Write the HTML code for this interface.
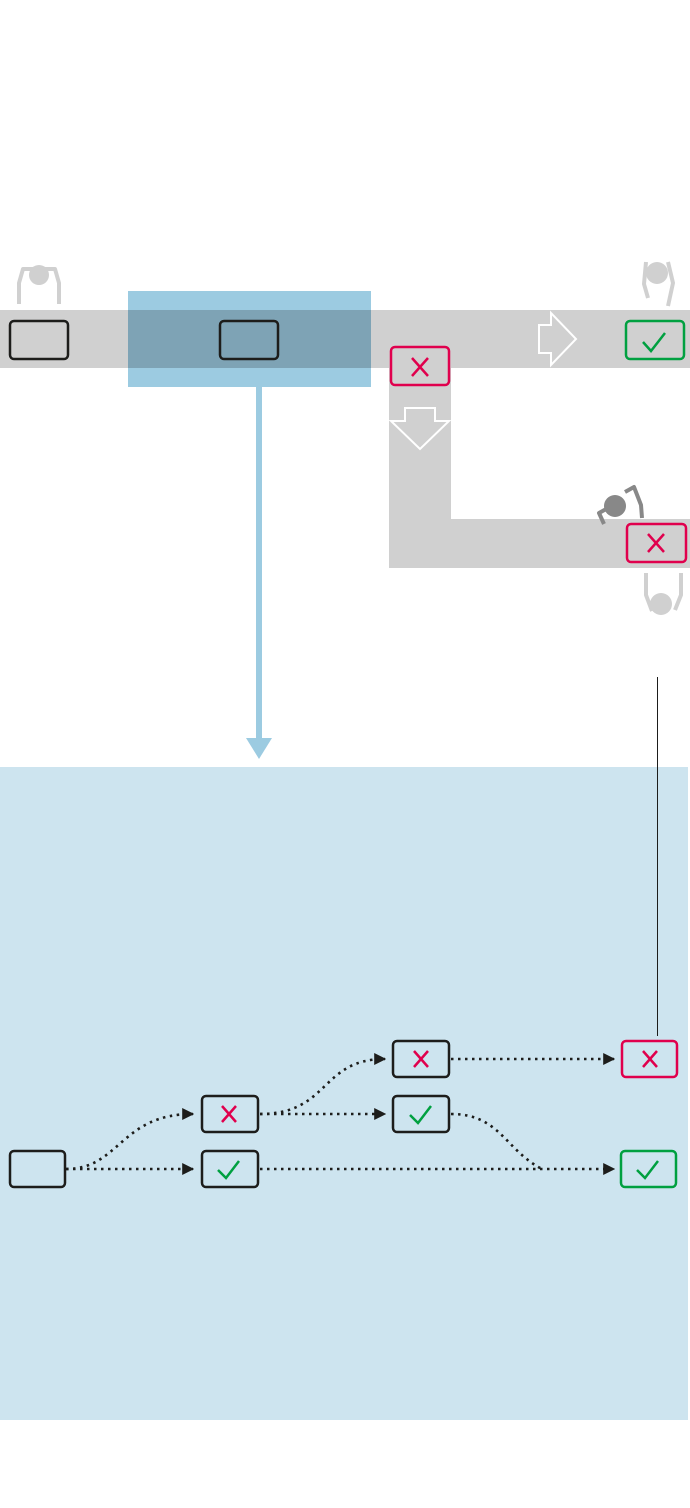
<!DOCTYPE html>
<html><head><meta charset="utf-8"><style>html,body{margin:0;padding:0;background:#fff}svg{display:block}</style></head>
<body>
<svg width="690" height="1508" viewBox="0 0 690 1508" xmlns="http://www.w3.org/2000/svg">
<defs>
<marker id="ah" viewBox="0 0 10 10" refX="9" refY="5" markerWidth="12" markerHeight="12" markerUnits="userSpaceOnUse" orient="auto"><path d="M0 0 L10 5 L0 10Z" fill="#1d1d1b"/></marker>
</defs>
<rect x="0" y="310" width="690" height="58" fill="#d0d0d0"/>
<rect x="389" y="368" width="62" height="200" fill="#d0d0d0"/>
<rect x="389" y="519" width="301" height="49" fill="#d0d0d0"/>
<rect x="128" y="291" width="243" height="96" fill="#9ccbe1"/>
<rect x="128" y="310" width="243" height="58" fill="#7ea3b5"/>
<rect x="256" y="387" width="6" height="352" fill="#9ccbe1"/>
<path d="M246 738 L272 738 L259 759Z" fill="#9ccbe1"/>
<rect x="10" y="321" width="58" height="38" rx="4" fill="none" stroke="#1d1d1b" stroke-width="2.5"/>
<rect x="220" y="321" width="58" height="38" rx="4" fill="none" stroke="#1d1d1b" stroke-width="2.5"/>
<rect x="626" y="321" width="58" height="38" rx="4" fill="none" stroke="#00a040" stroke-width="2.5"/>
<path d="M643 342 L651 351 L665 333" fill="none" stroke="#00a040" stroke-width="2.5"/>
<rect x="391" y="347" width="58" height="38" rx="4" fill="#d0d0d0" stroke="#e0004d" stroke-width="2.5"/>
<path d="M412 358 L428 376 M428 358 L412 376" stroke="#e0004d" stroke-width="2.5"/>
<path d="M539 325 H551 V313 L576 339 L551 365 V353 H539Z" fill="none" stroke="#fff" stroke-width="2"/>
<path d="M405 408 H435 V421 H449 L420 449 L391 421 H405Z" fill="none" stroke="#fff" stroke-width="2"/>
<rect x="627" y="524" width="59" height="38" rx="4" fill="#d0d0d0" stroke="#e0004d" stroke-width="2.5"/>
<path d="M648 534 L664 552 M664 534 L648 552" stroke="#e0004d" stroke-width="2.5"/>
<g fill="#d0d0d0" stroke="#d0d0d0" stroke-width="4" stroke-linejoin="round">
<circle cx="39" cy="275" r="10" stroke="none"/>
<path d="M19 304 V283 L23 269 H55 L59 283 V304" fill="none"/>
<circle cx="657" cy="273" r="11" stroke="none"/>
<path d="M646 262 L644 284 L648 298 M668 262 L673 283 L668 306" fill="none"/>
<circle cx="661" cy="604" r="11" stroke="none"/>
<path d="M646 573 V595 L652 611 M681 573 V595 L675 610" fill="none"/>
</g>
<g fill="#888" stroke="#888" stroke-width="4" stroke-linejoin="round">
<circle cx="615" cy="506" r="11" stroke="none"/>
<path d="M604 524 L599 513 L608 508 M625 492 L634 487 L641 505 L642 518" fill="none"/>
</g>
<rect x="0" y="767" width="688" height="653" fill="#cde4ef"/>
<line x1="657.5" y1="677" x2="657.5" y2="1036" stroke="#1d1d1b" stroke-width="1"/>
<g fill="none" stroke="#1d1d1b" stroke-width="2.6" stroke-dasharray="2.5 4.5">
<path d="M66 1169 H193" marker-end="url(#ah)"/>
<path d="M66 1169 C120 1169 120 1114 193 1114" marker-end="url(#ah)"/>
<path d="M260 1169 H614" marker-end="url(#ah)"/>
<path d="M260 1114 H385" marker-end="url(#ah)"/>
<path d="M260 1114 C330 1114 320 1059 385 1059" marker-end="url(#ah)"/>
<path d="M451 1059 H614" marker-end="url(#ah)"/>
<path d="M451 1114 C500 1114 505 1150 542 1169"/>
</g>
<g fill="none" stroke-width="2.5">
<rect x="10" y="1151" width="55" height="36" rx="4" stroke="#1d1d1b"/>
<rect x="202" y="1096" width="56" height="36" rx="4" stroke="#1d1d1b"/>
<rect x="202" y="1151" width="56" height="36" rx="4" stroke="#1d1d1b"/>
<rect x="393" y="1041" width="56" height="36" rx="4" stroke="#1d1d1b"/>
<rect x="393" y="1096" width="56" height="36" rx="4" stroke="#1d1d1b"/>
<rect x="622" y="1041" width="55" height="36" rx="4" stroke="#e0004d"/>
<rect x="621" y="1151" width="55" height="36" rx="4" stroke="#00a040"/>
<path d="M222 1106 L236 1122 M236 1106 L222 1122" stroke="#e0004d"/>
<path d="M414 1051 L428 1067 M428 1051 L414 1067" stroke="#e0004d"/>
<path d="M643 1051 L657 1067 M657 1051 L643 1067" stroke="#e0004d"/>
<path d="M218 1170 L226 1178 L239 1161" stroke="#00a040"/>
<path d="M410 1115 L418 1123 L431 1106" stroke="#00a040"/>
<path d="M637 1170 L645 1178 L658 1161" stroke="#00a040"/>
</g>
</svg>
</body></html>
